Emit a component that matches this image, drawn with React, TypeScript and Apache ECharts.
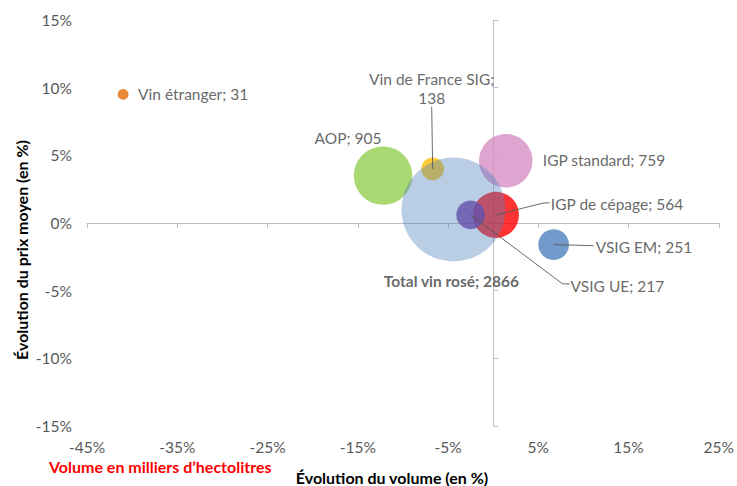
import React, { useEffect, useRef } from "react";
import * as echarts from "echarts";

// ---- Data ----
const names = [
  "Vin étranger",
  "AOP",
  "Vin de France SIG",
  "IGP standard",
  "IGP de cépage",
  "VSIG UE",
  "VSIG EM",
  "Total vin rosé",
];
const volumeChange = [-41.0, -12.2, -6.7, 1.4, 0.3, -2.5, 6.7, -4.4];
const priceChange = [9.5, 3.5, 4.0, 4.6, 0.6, 0.6, -1.6, 1.0];
const volumes = [31, 905, 138, 759, 564, 217, 251, 2866];
const xTickValues = [-45, -35, -25, -15, -5, 5, 15, 25];
const yTickValues = [-15, -10, -5, 0, 5, 10, 15];

// ---- Styles / layout (not data) ----
const colors = [
  "#e36c09",
  "#92d050",
  "#ffc000",
  "#d78fc5",
  "#ff0000",
  "#7030a0",
  "#4f81bd",
  "rgba(79,129,189,0.5)",
];
const labelAlign = ["left", "center", "center", "left", "left", "left", "left", "center"];
const labelOffsets = [
  [15, 0],
  [-35, -38],
  [-1, -80],
  [37, -1],
  [55, -11],
  [100, 71],
  [42, 2],
  [-2, 72],
];
const labelBold = [false, false, false, false, false, false, false, true];
const labelBreak = [false, false, true, false, false, false, false, false];
const leaderPoints: (number[][] | null)[] = [
  null,
  null,
  [[0, 0], [-1, -62]],
  null,
  [[0, 0], [48, -12], [54, -12]],
  [[0, 0], [92, 69], [99, 69]],
  [[0, 0], [40, 1]],
  null,
];

const FONT = 'Lato, "Open Sans", "Noto Sans", sans-serif';
const FS = 15.5;
const FS_BOLD = 16;

export default function App() {
  const ref = useRef<HTMLDivElement>(null);

  useEffect(() => {
    if (!ref.current) return;
    const chart = echarts.init(ref.current, undefined, { renderer: "svg" });

    const scatterData = names.map((n, i) => ({
      name: n,
      value: [volumeChange[i], priceChange[i], volumes[i]],
      itemStyle: { color: colors[i] },
      label: {
        align: labelAlign[i],
        offset: labelOffsets[i],
        fontWeight: labelBold[i] ? "bold" : "normal",
        lineHeight: 19,
      },
    }));

    const leaderData = names
      .map((n, i) => ({ i }))
      .filter((d) => leaderPoints[d.i] !== null)
      .map((d) => [volumeChange[d.i], priceChange[d.i], d.i]);

    const gray = "#bfbfbf";

    chart.setOption({
      animation: false,
      grid: { left: 87, right: 15, top: 20, bottom: 60, containLabel: false },
      xAxis: [
        {
          type: "value",
          min: -45,
          max: 25,
          position: "bottom",
          axisLine: { show: false, onZero: false },
          axisTick: { show: false },
          splitLine: { show: false },
          axisLabel: {
            customValues: xTickValues,
            formatter: (v: number) => v + "%",
            color: "#595959",
            fontSize: FS,
            fontFamily: FONT,
            margin: 13,
          },
        },
        {
          type: "value",
          min: -45,
          max: 25,
          position: "bottom",
          axisLine: { show: true, onZero: true, lineStyle: { color: gray, width: 1 } },
          axisTick: { show: true, customValues: xTickValues, length: 5, lineStyle: { color: gray } },
          axisLabel: { show: false },
          splitLine: { show: false },
        },
      ],
      yAxis: [
        {
          type: "value",
          min: -15,
          max: 15,
          interval: 5,
          position: "left",
          axisLine: { show: false, onZero: false },
          axisTick: { show: false },
          splitLine: { show: false },
          axisLabel: {
            customValues: yTickValues,
            formatter: (v: number) => v + "%",
            color: "#595959",
            fontSize: FS,
            fontFamily: FONT,
            margin: 15,
          },
        },
        {
          type: "value",
          min: -15,
          max: 15,
          interval: 5,
          position: "left",
          axisLine: { show: true, onZero: true, lineStyle: { color: gray, width: 1 } },
          axisTick: { show: true, inside: true, length: 5, lineStyle: { color: gray } },
          axisLabel: { show: false },
          splitLine: { show: false },
        },
      ],
      series: [
        {
          type: "scatter",
          xAxisIndex: 0,
          yAxisIndex: 0,
          z: 2,
          symbol: "circle",
          symbolSize: (val: number[]) => 1.94 * Math.sqrt(val[2]),
          emphasis: { disabled: true },
          label: {
            show: true,
            position: "inside",
            verticalAlign: "middle",
            color: "#404040",
            fontSize: FS,
            fontFamily: FONT,
            formatter: (p: any) => {
              const i = p.dataIndex;
              return names[i] + ";" + (labelBreak[i] ? "\n" : " ") + volumes[i];
            },
          },
          data: scatterData,
        },
        {
          type: "custom",
          xAxisIndex: 0,
          yAxisIndex: 0,
          z: 5,
          silent: true,
          clip: false,
          renderItem: (params: any, api: any) => {
            const c = api.coord([api.value(0), api.value(1)]);
            const idx = api.value(2);
            const pts = (leaderPoints[idx] || []).map((p) => [c[0] + p[0], c[1] + p[1]]);
            return {
              type: "polyline",
              shape: { points: pts },
              style: { stroke: "#595959", lineWidth: 0.9, fill: "none" },
            };
          },
          data: leaderData,
        },
      ],
      graphic: [
        {
          type: "text",
          x: 21,
          y: 250,
          rotation: Math.PI / 2,
          style: {
            text: "Évolution du prix moyen (en %)",
            x: 0,
            y: 0,
            align: "center",
            verticalAlign: "middle",
            fontSize: FS_BOLD,
            fontWeight: "bold",
            fontFamily: FONT,
            fill: "#000000",
          },
        },
        {
          type: "text",
          x: 392,
          y: 477,
          style: {
            text: "Évolution du volume (en %)",
            align: "center",
            verticalAlign: "middle",
            fontSize: FS_BOLD,
            fontWeight: "bold",
            fontFamily: FONT,
            fill: "#000000",
          },
        },
        {
          type: "text",
          x: 49,
          y: 466,
          style: {
            text: "Volume en milliers d’hectolitres",
            align: "left",
            verticalAlign: "middle",
            fontSize: FS_BOLD,
            fontWeight: "bold",
            fontFamily: FONT,
            fill: "#ff0000",
          },
        },
      ],
    });

    return () => chart.dispose();
  }, []);

  return (
    <div
      ref={ref}
      style={{ position: "fixed", left: 0, top: 0, width: 737, height: 486, background: "#ffffff" }}
    />
  );
}
